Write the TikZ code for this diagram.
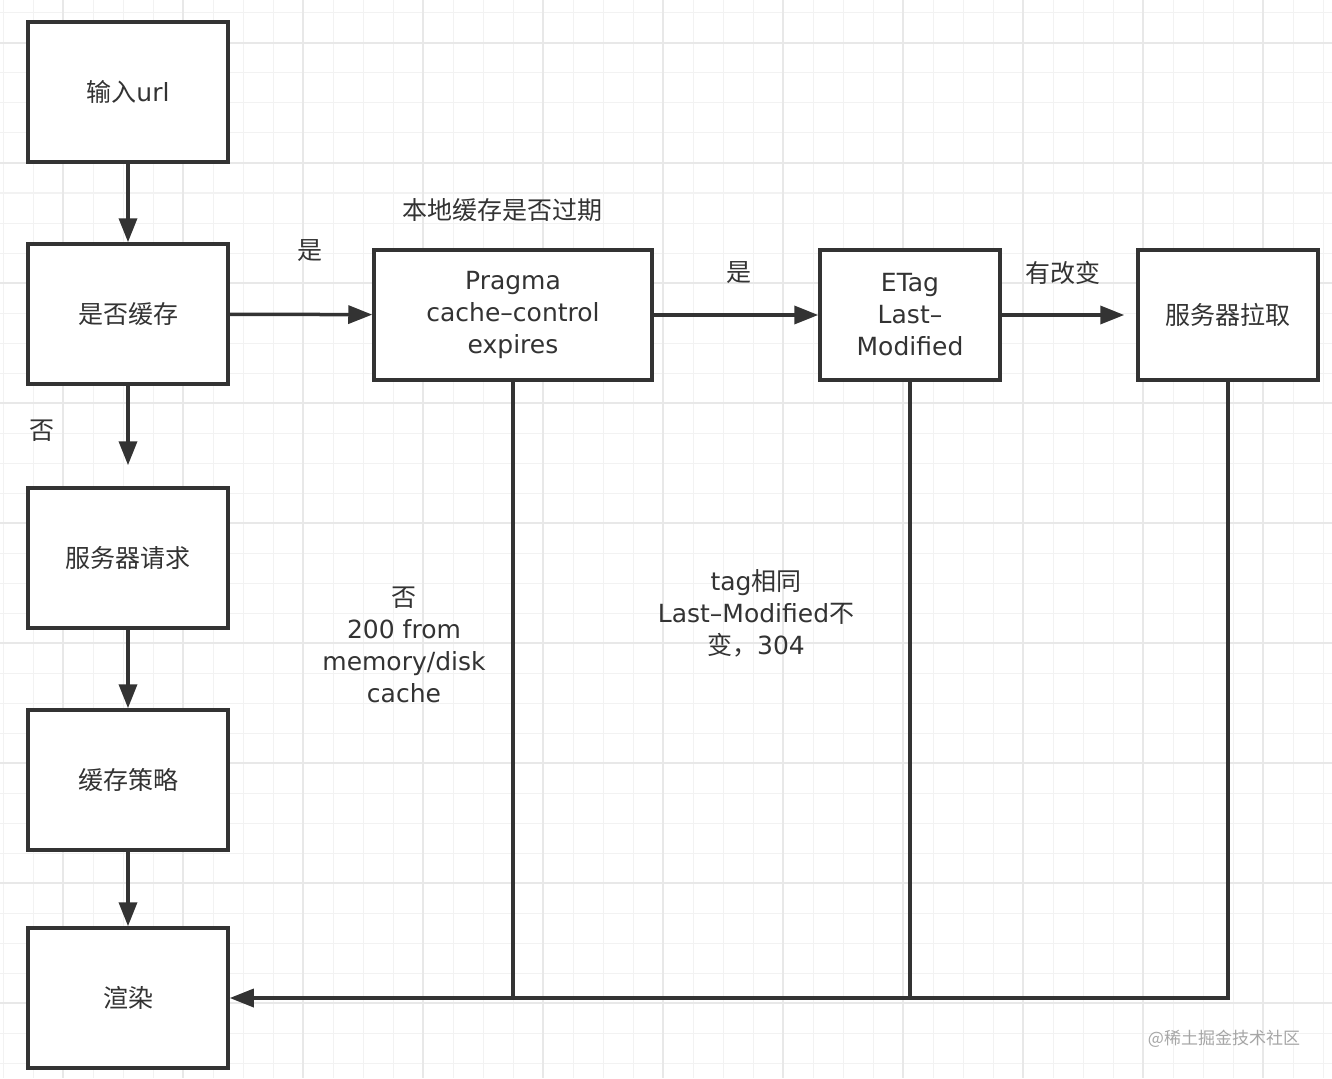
\documentclass[tikz,border=0pt]{standalone}
\usepackage{fontspec}
\setmainfont{DejaVu Sans}
\newfontfamily\cjk{Noto Sans CJK SC}
\usetikzlibrary{arrows.meta}
\definecolor{ink}{HTML}{333333}
\definecolor{gridminor}{HTML}{F2F2F2}
\definecolor{gridmajor}{HTML}{E8E8E8}
\tikzset{
  box/.style={draw=ink, line width=3.5pt, fill=white, text=ink, align=center,
    font=\fontsize{25}{32}\selectfont},
  label/.style={text=ink, align=center, font=\fontsize{25}{32}\selectfont},
  flow/.style={draw=ink, line width=3.5pt, -{Triangle[length=24pt,width=18pt]}},
  link/.style={draw=ink, line width=3.5pt}
}
\begin{document}
\begin{tikzpicture}[x=1pt, y=-1pt]
  \useasboundingbox (0,0) rectangle (1332,1078);
  \fill[white] (0,0) rectangle (1332,1078);
  % background grid
  \foreach \x in {3,33,...,1332} {
    \draw[gridminor, line width=1pt] (\x,0) -- (\x,1078);
  }
  \foreach \y in {13,43,...,1078} {
    \draw[gridminor, line width=1pt] (0,\y) -- (1332,\y);
  }
  \foreach \x in {63,183,...,1332} {
    \draw[gridmajor, line width=1.6pt] (\x,0) -- (\x,1078);
  }
  \foreach \y in {43,163,...,1078} {
    \draw[gridmajor, line width=1.6pt] (0,\y) -- (1332,\y);
  }

  % left column
  \node[box, minimum width=200pt, minimum height=140pt] (input) at (128,92) {{\cjk 输入}url};
  \node[box, minimum width=200pt, minimum height=140pt] (cached) at (128,314) {\cjk 是否缓存};
  \node[box, minimum width=200pt, minimum height=140pt] (request) at (128,558) {\cjk 服务器请求};
  \node[box, minimum width=200pt, minimum height=140pt] (policy) at (128,780) {\cjk 缓存策略};
  \node[box, minimum width=200pt, minimum height=140pt] (render) at (128,998) {\cjk 渲染};

  % top row
  \node[box, minimum width=278pt, minimum height=130pt] (pragma) at (513,315) {Pragma\\cache–control\\expires};
  \node[box, minimum width=180pt, minimum height=130pt] (etag) at (910,315) {ETag\\Last–\\Modified};
  \node[box, minimum width=180pt, minimum height=130pt] (pull) at (1228,315) {\cjk 服务器拉取};

  % labels
  \node[label] (expired) at (502,210) {\cjk 本地缓存是否过期};
  \node[label] (yes1) at (310,251) {\cjk 是};
  \node[label] (yes2) at (739,273) {\cjk 是};
  \node[label] (changed) at (1063,273) {\cjk 有改变};
  \node[label] (no1) at (42,431) {\cjk 否};
  \node[label] (no2) at (404,645) {{\cjk 否}\\200 from\\memory/disk\\cache};
  \node[label] (same) at (756,613) {tag{\cjk 相同}\\Last–Modified{\cjk 不}\\{\cjk 变，}304};
  \node[text=gray!70, font=\cjk\fontsize{17}{20}\selectfont] (mark) at (1224,1039) {@稀土掘金技术社区};

  % connectors
  \draw[flow] (input) -- (cached);
  \draw[flow, shorten >=21pt] (cached) -- (request);
  \draw[flow] (request) -- (policy);
  \draw[flow] (policy) -- (render);
  \draw[flow] (cached) -- (pragma);
  \draw[flow] (pragma) -- (etag);
  \draw[flow, shorten >=12pt] (etag) -- (pull);
  \draw[flow] (pull.south) |- (render.east);
  \draw[link] (pragma.south) -- (pragma.south |- render.east);
  \draw[link] (etag.south) -- (etag.south |- render.east);
\end{tikzpicture}
\end{document}
